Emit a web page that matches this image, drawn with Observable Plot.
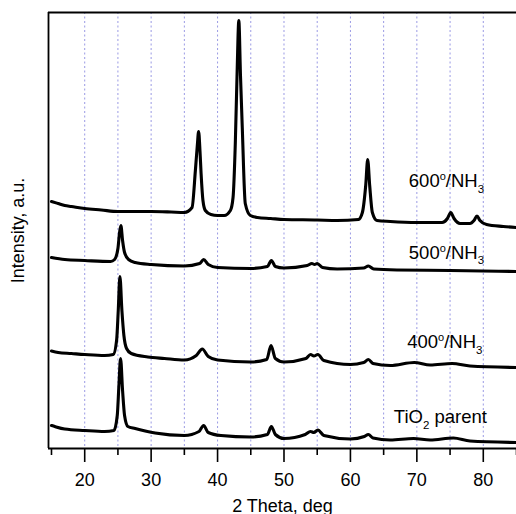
<!DOCTYPE html>
<html>
<head>
<meta charset="utf-8">
<script src="https://cdn.jsdelivr.net/npm/d3@7"></script>
<script src="https://cdn.jsdelivr.net/npm/@observablehq/plot@0.6"></script>
<style>
  html, body { margin: 0; padding: 0; background: #fff; }
  #chart { width: 516px; height: 514px; }
</style>
</head>
<body>
<div id="chart"></div>
<script>
// ---- data: [2θ (deg), intensity (a.u.)] ----
const seriesNames = ["600°/NH3", "500°/NH3", "400°/NH3", "TiO2 parent"];

const curve600 = [
  [15.0,247],[16,245],[17,243],[18,242],[20,240],[22.5,238.5],[25,237],[28,237],[30,237],[33,236.5],[35,236],
  [36.16,241],[36.66,278],[36.95,303],[37.15,317],[37.35,298],[37.52,275],[37.8,248],[38.16,238],[39,234],[40,233],[41,233],
  [41.93,238],[42.33,251],[42.67,305],[42.95,378],[43.2,428],[43.45,373],[43.72,321],[44.17,245],[44.94,233],
  [46,231],[48,230],[50,229],[55,228.5],[58,228],[61.2,229],[61.8,236],[62.3,263],[62.6,289],[62.9,263],[63.3,236],
  [64,228],[66,227],[70,226],[73.8,226],[74.6,230],[75.1,236],[75.6,230],[76.5,225],[78,225],[78.6,228],[79.05,232.5],
  [79.5,228],[80.5,224],[83,222],[85,221]
];

const curve500 = [
  [15,191],[17,189],[20,188],[23.9,187],[24.5,189],[25.0,200],[25.25,216],[25.45,223],[25.7,208],[26.0,196],[26.6,189],
  [27.6,186],[30,184],[35,182.5],[37.3,185],[37.9,189],[38.6,184],[40,181],[45,180],[47.5,182],[48.1,188],[48.7,182],
  [50,180.5],[53.5,183],[54.2,185],[54.6,184],[55.0,185],[55.8,181],[58,179.5],[62,180.5],[62.7,182.5],[63.5,179.5],
  [67,178.5],[75,178],[85,177]
];

const curve400 = [
  [15,97.5],[16,96],[18,95],[20,94],[23,93],[24.3,94],[24.8,108],[25.05,138],[25.3,172],[25.6,138],[25.9,113],[26.3,100],
  [27,95],[29.5,91.5],[32,90],[35,88.5],[36.8,93],[37.7,99.5],[38.6,92],[40,88.5],[45,86.5],[47.4,89],[48.05,103],[48.7,90],
  [50,86.5],[53.3,90],[54.0,94],[54.5,92.5],[55.1,94],[56,88],[60,84],[62.0,86],[62.7,89],[63.4,85],[66,83],[69.6,86],
  [72,83.5],[75.3,85],[78,82.5],[85,81]
];

const curveParent = [
  [15,23],[15.5,22],[17,19.5],[20,18],[23,17],[24.4,18],[24.9,33],[25.15,63],[25.4,90],[25.7,58],[26.0,33],[26.5,22],
  [27.6,20],[30.6,15.5],[35,13],[37.2,17],[37.9,23],[38.6,16],[40.5,13],[45,11.5],[47.5,14],[48.1,22],[48.7,14],
  [50,10],[53.2,14],[54.0,17],[54.5,16],[55.1,18.5],[56,13],[60,9.5],[62.1,12],[62.7,14],[63.4,10.5],[66,8.5],
  [69.5,10],[72,8.5],[75.5,10.5],[78,7.5],[85,6]
];

const majorTicks = [20, 30, 40, 50, 60, 70, 80];
const minorTicks = [15, 25, 35, 45, 55, 65, 75, 85];
const gridTicks = [20, 25, 30, 35, 40, 45, 50, 55, 60, 65, 70, 75, 80];
const xTitle = "2 Theta, deg";
const yTitle = "Intensity, a.u.";

// ---- chart ----
const xDomain = [14.55, 85];
const yDomain = [0, 436];
const curves = [curve600, curve500, curve400, curveParent];

const labelMarks = [
  {name: seriesNames[0], x: 68.79, y: 261.4},
  {name: seriesNames[1], x: 68.79, y: 189.7},
  {name: seriesNames[2], x: 68.55, y: 100.5},
  {name: seriesNames[3], x: 66.53, y: 25.3}
];

const chart = Plot.plot({
  width: 516,
  height: 514,
  marginLeft: 48,
  marginRight: 0,
  marginTop: 12,
  marginBottom: 66,
  style: {fontFamily: "'Liberation Sans', Arial, sans-serif", fontSize: "18px", background: "#fff", color: "#000"},
  x: {domain: xDomain},
  y: {domain: yDomain, axis: null},
  marks: [
    Plot.ruleX(gridTicks, {stroke: "#9a9ae4", strokeWidth: 1, strokeDasharray: "2,2.5"}),
    ...curves.map(c => Plot.line(c, {x: d => d[0], y: d => d[1], stroke: "#000", strokeWidth: 3.1, curve: "monotone-x", strokeLinejoin: "round"})),
    Plot.ruleX([xDomain[0]], {stroke: "#000", strokeWidth: 1.8}),
    Plot.ruleY([yDomain[0]], {stroke: "#000", strokeWidth: 1.8}),
    Plot.ruleY([yDomain[1]], {stroke: "#000", strokeWidth: 1.8}),
    Plot.axisX({ticks: majorTicks, tickSize: 14, tickPadding: 11, fontSize: 18, strokeWidth: 1.6, label: null}),
    Plot.axisX({ticks: minorTicks, tickSize: 7, tickFormat: () => "", strokeWidth: 1.6, label: null}),
    Plot.text(labelMarks, {x: "x", y: "y", text: "name", textAnchor: "start", lineAnchor: "bottom", fontSize: 18.5, fill: "#000"}),
    Plot.text([xTitle], {text: d => d, frameAnchor: "bottom", dy: 63, lineAnchor: "bottom", fontSize: 18, fill: "#000"}),
    Plot.text([yTitle], {text: d => d, frameAnchor: "left", rotate: -90, dx: -25, lineAnchor: "bottom", textAnchor: "middle", fontSize: 18, fill: "#000"})
  ]
});

// rich text: superscript degree "o" and subscripts in chemical formulas
const NS = "http://www.w3.org/2000/svg";
for (const t of chart.querySelectorAll("text")) {
  const s = t.textContent;
  if (!seriesNames.includes(s)) continue;
  t.textContent = "";
  let offset = 0;
  let buf = "";
  const flush = () => {
    if (!buf) return;
    const sp = document.createElementNS(NS, "tspan");
    sp.setAttribute("dy", String(-offset));
    offset = 0;
    sp.textContent = buf;
    t.appendChild(sp);
    buf = "";
  };
  for (let i = 0; i < s.length; i++) {
    const ch = s[i];
    const prev = s[i - 1] || "";
    if (ch === "°") {
      flush();
      const sp = document.createElementNS(NS, "tspan");
      sp.setAttribute("dy", String(-7 - offset));
      offset = -7;
      sp.setAttribute("font-size", "11");
      sp.textContent = "o";
      t.appendChild(sp);
    } else if (/\d/.test(ch) && /[A-Za-z]/.test(prev)) {
      flush();
      const sp = document.createElementNS(NS, "tspan");
      sp.setAttribute("dy", String(5.5 - offset));
      offset = 5.5;
      sp.setAttribute("font-size", "11.5");
      sp.textContent = ch;
      t.appendChild(sp);
    } else {
      buf += ch;
    }
  }
  flush();
}

document.getElementById("chart").appendChild(chart);
</script>
</body>
</html>
